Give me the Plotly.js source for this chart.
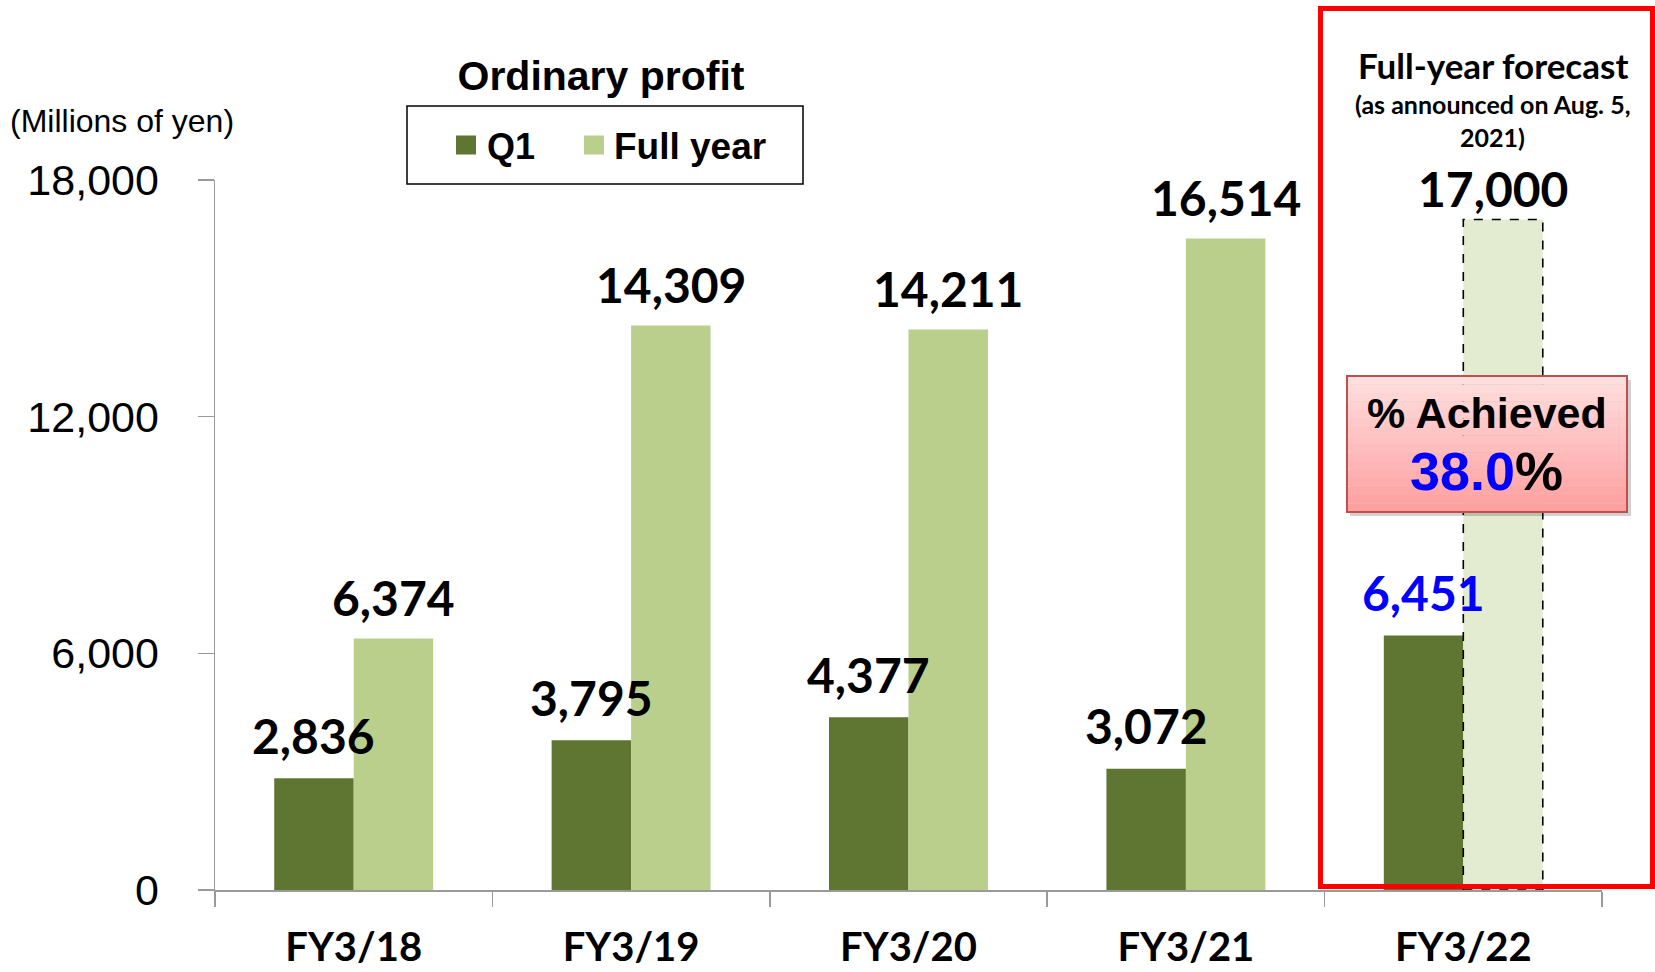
<!DOCTYPE html>
<html><head><meta charset="utf-8">
<script src="https://cdn.plot.ly/plotly-3.0.1.min.js"></script>
<style>html,body{margin:0;padding:0;background:#fff}#chart{width:1655px;height:972px}</style>
</head><body><div id="chart"></div>
<script>
// ---- data ----
const categories = ['FY3/18', 'FY3/19', 'FY3/20', 'FY3/21', 'FY3/22'];
const q1Values = [2836, 3795, 4377, 3072, 6451];
const fullYearValues = [6374, 14309, 14211, 16514, 17000];
const yTickValues = [0, 6000, 12000, 18000];
const yTickLabels = ['0', '6,000', '12,000', '18,000'];
const seriesNames = ['Q1', 'Full year'];
const forecastIndex = 4;
const achievedRate = '38.0';

// ---- layout helpers ----
const W = 1655, H = 972;
const M = {l: 215, r: 53, t: 180, b: 82};
const PW = W - M.l - M.r, PH = H - M.t - M.b;
const xp = px => (px - M.l) / PW;
const yp = py => (H - M.b - py) / PH;
const bargap = 0.427;
const barW = (1 - bargap) / 2;

const cQ1 = '#5F7532', cFY = '#B9CF8B', cFc = '#E3EBD1';
const fmt = v => v.toLocaleString('en-US');
const labelFont = {family: 'Lato, "Open Sans", sans-serif', size: 48, weight: 700, color: '#000'};
const boldArial = 'Liberation Sans, Arial, sans-serif';

const traces = [
  {type: 'bar', name: seriesNames[0], x: categories, y: q1Values,
   marker: {color: cQ1}, hoverinfo: 'skip', showlegend: false},
  {type: 'bar', name: seriesNames[1], x: categories, y: fullYearValues,
   marker: {color: fullYearValues.map((v, i) => i === forecastIndex ? cFc : cFY)},
   hoverinfo: 'skip', showlegend: false}
];

const annotations = [];
q1Values.forEach((v, i) => {
  annotations.push({x: i - barW / 2, y: v, xref: 'x', yref: 'y', text: fmt(v), showarrow: false,
    yanchor: 'middle', yshift: 43,
    font: Object.assign({}, labelFont, {color: i === forecastIndex ? '#0000FF' : '#000'})});
});
fullYearValues.forEach((v, i) => {
  annotations.push({x: i + barW / 2, y: v, xref: 'x', yref: 'y', text: fmt(v), showarrow: false,
    yanchor: 'middle', yshift: i === forecastIndex ? 31 : 41, xshift: i === forecastIndex ? -10 : 0,
    font: labelFont});
});

// header / legend / notes
annotations.push(
  {xref: 'paper', yref: 'paper', x: xp(121.5), y: yp(121), text: '(Millions of yen)', showarrow: false,
   xanchor: 'center', yanchor: 'middle', font: {family: boldArial, size: 32, color: '#000'}},
  {xref: 'paper', yref: 'paper', x: xp(485), y: yp(146), text: seriesNames[0], showarrow: false,
   xanchor: 'left', yanchor: 'middle', font: {family: boldArial, size: 36, weight: 700, color: '#000'}},
  {xref: 'paper', yref: 'paper', x: xp(612), y: yp(146), text: seriesNames[1], showarrow: false,
   xanchor: 'left', yanchor: 'middle', font: {family: boldArial, size: 37, weight: 700, color: '#000'}},
  {xref: 'paper', yref: 'paper', x: xp(1492.5), y: yp(64.5), text: 'Full-year forecast', showarrow: false,
   xanchor: 'center', yanchor: 'middle', font: {family: 'Lato, sans-serif', size: 35, weight: 700, color: '#000'}},
  {xref: 'paper', yref: 'paper', x: xp(1492.5), y: yp(104), text: '(as announced on Aug. 5,', showarrow: false,
   xanchor: 'center', yanchor: 'middle', font: {family: 'Lato, sans-serif', size: 25, weight: 700, color: '#000'}},
  {xref: 'paper', yref: 'paper', x: xp(1492.5), y: yp(137), text: '2021)', showarrow: false,
   xanchor: 'center', yanchor: 'middle', font: {family: 'Lato, sans-serif', size: 25, weight: 700, color: '#000'}},
  {xref: 'paper', yref: 'paper', x: xp(1487), y: yp(412.5), text: '% Achieved', showarrow: false,
   xanchor: 'center', yanchor: 'middle', font: {family: boldArial, size: 43, weight: 700, color: '#000'}},
  {xref: 'paper', yref: 'paper', x: xp(1486), y: yp(471),
   text: '<span style="color:#0000FF">' + achievedRate + '</span>%', showarrow: false,
   xanchor: 'center', yanchor: 'middle', font: {family: boldArial, size: 54, weight: 700, color: '#000'}}
);

const shapes = [];
// dashed outline for forecast bar
shapes.push({type: 'rect', xref: 'x', yref: 'y', x0: forecastIndex, x1: forecastIndex + barW,
  y0: 0, y1: fullYearValues[forecastIndex], line: {color: '#000', width: 1.6, dash: 'dash'},
  fillcolor: 'rgba(0,0,0,0)', layer: 'above'});
// legend box and swatches
shapes.push({type: 'rect', xref: 'paper', yref: 'paper', x0: xp(407), x1: xp(803), y0: yp(184), y1: yp(106),
  line: {color: '#000', width: 1.5}, fillcolor: 'rgba(0,0,0,0)'});
shapes.push({type: 'rect', xref: 'paper', yref: 'paper', x0: xp(456), x1: xp(476), y0: yp(154.5), y1: yp(135.5),
  line: {width: 0}, fillcolor: cQ1});
shapes.push({type: 'rect', xref: 'paper', yref: 'paper', x0: xp(584), x1: xp(604), y0: yp(154.5), y1: yp(135.5),
  line: {width: 0}, fillcolor: cFY});
// achieved box: shadow, gradient bands, border
shapes.push({type: 'rect', xref: 'paper', yref: 'paper', x0: xp(1350), x1: xp(1631), y0: yp(516), y1: yp(380),
  line: {width: 0}, fillcolor: 'rgba(0,0,0,0.18)', layer: 'above'});
const bx0 = 1347, bx1 = 1627, by0 = 376, by1 = 512, nb = 16;
for (let k = 0; k < nb; k++) {
  const t = k / (nb - 1);
  const g = Math.round(222 - t * (222 - 160));
  shapes.push({type: 'rect', xref: 'paper', yref: 'paper', x0: xp(bx0), x1: xp(bx1),
    y1: yp(by0 + (by1 - by0) * k / nb), y0: yp(by0 + (by1 - by0) * (k + 1) / nb),
    line: {width: 0}, fillcolor: `rgb(255,${g},${g})`, layer: 'above'});
}
shapes.push({type: 'rect', xref: 'paper', yref: 'paper', x0: xp(bx0), x1: xp(bx1), y0: yp(by1), y1: yp(by0),
  line: {color: '#C0504D', width: 2}, fillcolor: 'rgba(0,0,0,0)', layer: 'above'});
// red highlight frame
shapes.push({type: 'rect', xref: 'paper', yref: 'paper', x0: xp(1320.5), x1: xp(1652.5), y0: yp(886.5), y1: yp(8.5),
  line: {color: '#FF0000', width: 5}, fillcolor: 'rgba(0,0,0,0)', layer: 'above'});

const layout = {
  width: W, height: H,
  margin: M,
  paper_bgcolor: '#fff', plot_bgcolor: '#fff',
  barmode: 'group', bargap: bargap, bargroupgap: 0,
  showlegend: false,
  title: {text: 'Ordinary profit', x: 601 / W, y: 1 - 76 / H, xanchor: 'center', yanchor: 'middle',
    font: {family: boldArial, size: 41, weight: 700, color: '#000'}},
  xaxis: {type: 'category', showline: true, linecolor: '#9a9a9a', linewidth: 1.5,
    ticks: 'outside', ticklen: 15, tickwidth: 1.5, tickcolor: '#9a9a9a', tickson: 'boundaries',
    showgrid: false, zeroline: false, ticklabelstandoff: 21,
    tickfont: {family: 'Lato, sans-serif', size: 40, weight: 700, color: '#000'}},
  yaxis: {range: [0, 18000], showline: true, linecolor: '#9a9a9a', linewidth: 1.5,
    ticks: 'outside', ticklen: 16, tickwidth: 1.5, tickcolor: '#9a9a9a',
    tickvals: yTickValues, ticktext: yTickLabels, showgrid: false, zeroline: false,
    ticklabelstandoff: 30,
    tickfont: {family: 'Liberation Sans, Arial, sans-serif', size: 43, color: '#000'}},
  annotations: annotations,
  shapes: shapes
};

Plotly.newPlot('chart', traces, layout, {staticPlot: true, displayModeBar: false});
</script>
</body></html>
